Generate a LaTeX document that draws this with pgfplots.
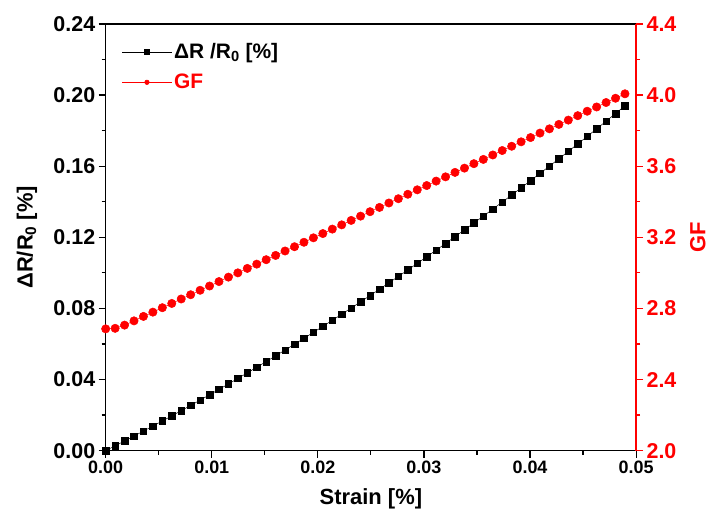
\documentclass[border=0pt]{standalone}
\usepackage{fontspec}
\setmainfont{Liberation Sans}
\usepackage{pgfplots}
\pgfplotsset{compat=1.18}
\usepackage{pgfplotstable}

\pgfplotstableread{
x dr gf
0 0 2.685
0.00089 0.00270 2.688
0.00178 0.00544 2.706
0.00267 0.00820 2.730
0.00356 0.01100 2.755
0.00445 0.01382 2.779
0.00534 0.01668 2.804
0.00623 0.01956 2.828
0.00712 0.02248 2.853
0.00801 0.02543 2.877
0.00890 0.02841 2.902
0.00979 0.03141 2.926
0.01068 0.03445 2.951
0.01157 0.03752 2.976
0.01246 0.04062 3.000
0.01335 0.04375 3.025
0.01424 0.04691 3.049
0.01513 0.05010 3.074
0.01602 0.05333 3.098
0.01691 0.05658 3.123
0.01780 0.05986 3.147
0.01869 0.06317 3.172
0.01958 0.06652 3.197
0.02047 0.06989 3.221
0.02136 0.07330 3.246
0.02225 0.07673 3.270
0.02314 0.08020 3.295
0.02403 0.08369 3.319
0.02492 0.08722 3.344
0.02581 0.09078 3.368
0.02670 0.09437 3.393
0.02759 0.09798 3.417
0.02848 0.10163 3.442
0.02937 0.10531 3.467
0.03026 0.10902 3.491
0.03115 0.11276 3.516
0.03204 0.11653 3.540
0.03293 0.12033 3.565
0.03382 0.12417 3.589
0.03471 0.12803 3.614
0.03560 0.13192 3.638
0.03649 0.13584 3.663
0.03738 0.13980 3.688
0.03827 0.14378 3.712
0.03916 0.14780 3.737
0.04005 0.15184 3.761
0.04094 0.15592 3.786
0.04183 0.16002 3.810
0.04272 0.16416 3.835
0.04361 0.16833 3.859
0.04450 0.17253 3.884
0.04539 0.17675 3.909
0.04628 0.18101 3.933
0.04717 0.18530 3.958
0.04806 0.18962 3.982
0.04895 0.19397 4.007
}\data

\definecolor{gfred}{RGB}{255,0,0}

\pgfplotsset{
  common/.style={
    scale only axis, width=532pt, height=428pt,
    xmin=0, xmax=0.05,
    scaled ticks=false,
    tick align=outside,
    major tick length=7pt, minor tick length=4pt,
    /pgf/number format/assume math mode=true,
    legend image code/.code={
      \draw[mark repeat=2,mark phase=2,#1,mark size=2.3pt]
        plot coordinates {(0pt,0pt) (25pt,0pt) (50pt,0pt)};
    },
  }
}

\begin{document}
\begin{tikzpicture}
\begin{axis}[common, name=main,
  ymin=0, ymax=0.24,
  xtick={0,0.01,0.02,0.03,0.04,0.05},
  ytick={0,0.04,0.08,0.12,0.16,0.20,0.24},
  minor x tick num=1, minor y tick num=1,
  xtick pos=bottom, ytick pos=left,
  axis line style={line width=1.3pt},
  every tick/.style={black, line width=1.2pt},
  xticklabel style={/pgf/number format/fixed, /pgf/number format/fixed zerofill, /pgf/number format/precision=2, font=\fontsize{18}{21}\selectfont\bfseries},
  yticklabel style={/pgf/number format/fixed, /pgf/number format/fixed zerofill, /pgf/number format/precision=2, font=\fontsize{21.5}{25}\selectfont\bfseries},
  xlabel={Strain [\%]}, ylabel={ΔR/R\textsubscript{0} [\%]},
  every axis x label/.style={at={(rel axis cs:0.5,0)}, yshift=-48pt, anchor=center, font=\fontsize{22}{26}\selectfont\bfseries},
  every axis y label/.style={at={(rel axis cs:0,0.5)}, xshift=-79pt, rotate=90, anchor=center, font=\fontsize{22}{26}\selectfont\bfseries},
  legend style={draw=none, fill=none, at={(0.03,0.959)}, anchor=north west, font=\fontsize{21}{25}\selectfont\bfseries, row sep=10pt, inner sep=0pt},
  legend cell align=left,
]
\addplot[black, line width=0.5pt, mark=square*, mark size=3.3pt, mark options={solid}] table[x=x, y=dr] {\data};
\addlegendentry{ΔR /R\textsubscript{0} [\%]}
\addlegendimage{gfred, line width=0.5pt, mark=*, mark size=4.2pt}
\addlegendentry{\textcolor{gfred}{GF}}
\end{axis}
\begin{axis}[common,
  ymin=2, ymax=4.4,
  axis x line=none, axis y line*=right,
  ytick={2.0,2.4,2.8,3.2,3.6,4.0,4.4},
  minor y tick num=1,
  axis line style={gfred, line width=1.3pt},
  every tick/.style={gfred, line width=1.2pt},
  yticklabel style={gfred, /pgf/number format/fixed, /pgf/number format/fixed zerofill, /pgf/number format/precision=1, font=\fontsize{21.5}{25}\selectfont\bfseries},
  ylabel={GF},
  every axis y label/.style={at={(rel axis cs:1,0.5)}, xshift=62pt, rotate=90, anchor=center, text=gfred, font=\fontsize{22}{26}\selectfont\bfseries},
]
\addplot[gfred, line width=0.5pt, mark=*, mark size=4.2pt, mark options={solid}] table[x=x, y=gf] {\data};
\end{axis}
\path (main.south west) ++(-106pt,-61pt) rectangle ++(709pt,513pt);
\end{tikzpicture}
\end{document}
